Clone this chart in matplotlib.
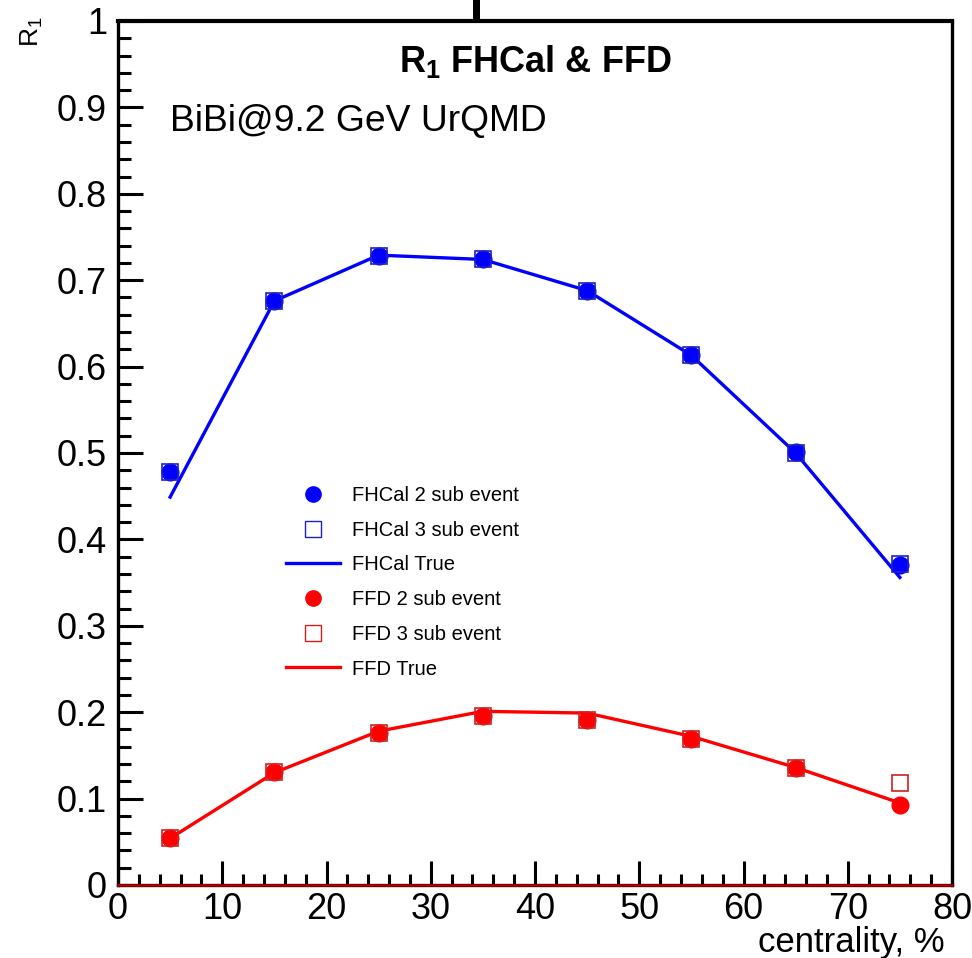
import matplotlib
matplotlib.use("Agg")
import matplotlib.pyplot as plt
from matplotlib.lines import Line2D
from matplotlib.patches import Rectangle
from matplotlib.ticker import MultipleLocator

plt.rcParams['font.family'] = ['Liberation Sans', 'DejaVu Sans']
plt.rcParams['mathtext.fontset'] = 'custom'
plt.rcParams['mathtext.rm'] = 'Liberation Sans'
plt.rcParams['mathtext.bf'] = 'Liberation Sans:bold'

# Centrality bin centres (%)
centrality = [5, 15, 25, 35, 45, 55, 65, 75]

# FHCal resolution R1
fhcal_2sub = [0.478, 0.676, 0.728, 0.725, 0.688, 0.613, 0.501, 0.370]
fhcal_3sub = [0.478, 0.676, 0.728, 0.725, 0.687, 0.613, 0.500, 0.371]
fhcal_true = [0.449, 0.676, 0.729, 0.724, 0.688, 0.613, 0.500, 0.356]

# FFD resolution R1
ffd_2sub = [0.054, 0.131, 0.176, 0.196, 0.191, 0.169, 0.135, 0.093]
ffd_3sub = [0.054, 0.131, 0.176, 0.196, 0.191, 0.169, 0.135, 0.118]
ffd_true = [0.054, 0.130, 0.178, 0.201, 0.199, 0.172, 0.136, 0.095]

blue = '#0000ff'
red = '#ff0000'

fig = plt.figure(figsize=(9.72, 9.58), dpi=100)
ax = fig.add_axes([118 / 972, 73 / 958, 834 / 972, 864 / 958])

lw = 2.4
ax.plot(centrality, fhcal_true, color=blue, lw=lw, zorder=2, label='FHCal True')
ax.plot(centrality, fhcal_2sub, 'o', color=blue, ms=12, mec=blue, ls='none',
        zorder=3, label='FHCal 2 sub event')
ax.plot(centrality, fhcal_3sub, 's', mfc='none', mec='#2020c0', mew=1.2, ms=12,
        ls='none', zorder=4, label='FHCal 3 sub event')

ax.plot(centrality, ffd_true, color=red, lw=lw, zorder=2, label='FFD True')
ax.plot(centrality, ffd_2sub, 'o', color=red, ms=12, mec=red, ls='none',
        zorder=3, label='FFD 2 sub event')
ax.plot(centrality, ffd_3sub, 's', mfc='none', mec='#d02020', mew=1.2, ms=12,
        ls='none', zorder=4, label='FFD 3 sub event')

# baseline drawn along the x axis
ax.axhline(0, color='#b00000', lw=1.8, zorder=6, clip_on=False)

ax.set_xlim(0, 80)
ax.set_ylim(0, 1)
ax.xaxis.set_major_locator(MultipleLocator(10))
ax.xaxis.set_minor_locator(MultipleLocator(2))
ax.yaxis.set_major_locator(MultipleLocator(0.1))
ax.yaxis.set_minor_locator(MultipleLocator(0.02))

ax.tick_params(which='both', direction='in', top=False, right=False, width=2.2)
ax.tick_params(axis='y', which='major', length=18, labelsize=26, pad=8)
ax.tick_params(axis='y', which='minor', length=9)
ax.tick_params(axis='x', which='major', length=17, labelsize=26, pad=5)
ax.tick_params(axis='x', which='minor', length=8)

ax.set_yticks([0, 0.1, 0.2, 0.3, 0.4, 0.5, 0.6, 0.7, 0.8, 0.9, 1.0])
ax.set_yticklabels(['0', '0.1', '0.2', '0.3', '0.4', '0.5', '0.6', '0.7',
                    '0.8', '0.9', '1'])
ax.set_xticks([0, 10, 20, 30, 40, 50, 60, 70, 80])
ax.set_xticklabels(['0', '10', '20', '30', '40', '50', '60', '70', '80'])

for side in ['left', 'bottom', 'right']:
    ax.spines[side].set_linewidth(2.4)
ax.spines['top'].set_linewidth(3.0)

# axis titles
fig.text(32 / 972, 1 - 32 / 958, r'R$_1$', rotation=90, fontsize=19,
         ha='center', va='center')
fig.text(945 / 972, 1 - 952 / 958, 'centrality, %', fontsize=25,
         ha='right', va='baseline')

# plot title and system label
ax.text(0.5, (885 - 72) / 864, r'$\mathbf{R_1}$ FHCal & FFD',
        transform=ax.transAxes, fontsize=26, fontweight='bold',
        ha='center', va='baseline')
ax.text((170 - 118) / 834, (885 - 131) / 864, 'BiBi@9.2 GeV UrQMD',
        transform=ax.transAxes, fontsize=26.8, ha='left', va='baseline')

# legend
handles = [
    Line2D([], [], marker='o', color=blue, ls='none', ms=11),
    Line2D([], [], marker='s', mfc='none', mec='#2020c0', mew=1.0, ls='none', ms=11),
    Line2D([], [], color=blue, lw=2.4),
    Line2D([], [], marker='o', color=red, ls='none', ms=11),
    Line2D([], [], marker='s', mfc='none', mec='#d02020', mew=1.0, ls='none', ms=11),
    Line2D([], [], color=red, lw=2.4),
]
labels = ['FHCal 2 sub event', 'FHCal 3 sub event', 'FHCal True',
          'FFD 2 sub event', 'FFD 3 sub event', 'FFD True']
ax.legend(handles, labels, loc='upper left',
          bbox_to_anchor=((286 - 118) / 834, (885 - 486) / 864),
          frameon=False, fontsize=14.5, labelspacing=0.78, handlelength=2.7,
          handletextpad=0.6, borderaxespad=0, borderpad=0)

# short dark mark at the top edge of the canvas
fig.add_artist(Rectangle((473 / 972, 1 - 20 / 958), 7 / 972, 20 / 958,
                         transform=fig.transFigure, color='black', lw=0))

fig.savefig('out.png', dpi=100)
